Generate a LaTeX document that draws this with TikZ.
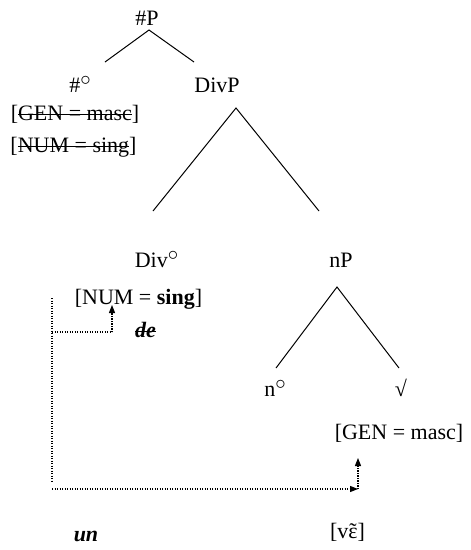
\documentclass[tikz,border=0pt]{standalone}
\usepackage{fontspec}
\setmainfont{Liberation Serif}
\usetikzlibrary{arrows.meta}
\newsavebox\stbox
\newcommand\strk[1]{\sbox\stbox{#1}\rlap{\rule[0.22em]{\wd\stbox}{0.055em}}\usebox\stbox}
\newcommand\hd{\raisebox{0.3em}{$\circ$}}
\newcommand\epsnasal{\ooalign{ɛ\cr\hidewidth\char"02DC\hidewidth\cr}}
\begin{document}
\begin{tikzpicture}[x=1pt,y=-1pt,
  lbl/.style={anchor=base,inner sep=0pt,font=\fontsize{22}{26}\selectfont},
  branch/.style={line width=1pt},
  movepath/.style={line width=1.2pt,dash pattern=on 1.2pt off 1.3pt},
  movearrow/.style={movepath,-{Triangle[length=8pt,width=6pt]}}]
\useasboundingbox (0,0) rectangle (471,550);
% labels
\node[lbl] (hP)   at (147,25)  {\#P};
\node[lbl] (h0)   at (80,92)   {\#\hd};
\node[lbl] (DivP) at (217,92)  {DivP};
\node[lbl] (gen1) at (75,120)  {[\strk{GEN = masc}]};
\node[lbl] (num1) at (73.5,152) {[\strk{NUM = sing}]};
\node[lbl] (Div0) at (156.5,267) {Div\hd};
\node[lbl] (nP)   at (341,267) {nP};
\node[lbl] (num2) at (138.5,304) {[NUM = \textbf{sing}]};
\node[lbl] (de)   at (145.5,337) {\textbf{\textit{\strk{de}}}};
\node[lbl] (n0)   at (275,396) {n\hd};
\node[lbl] (root) at (401,396) {√};
\node[lbl] (gen2) at (399,439) {[GEN = masc]};
\node[lbl] (ve)   at (347.5,538) {[v\epsnasal]};
\node[lbl] (un)   at (86,541)  {\textbf{\textit{un}}};
% branch points
\coordinate (hP-b) at (149,30);
\coordinate (h0-t) at (105,62);
\coordinate (DivP-t) at (194,62);
\coordinate (DivP-b) at (236,108);
\coordinate (Div0-t) at (153,211);
\coordinate (nP-t) at (319,211);
\coordinate (nP-b) at (337,287);
\coordinate (n0-t) at (276,368);
\coordinate (root-t) at (399,368);
\draw[branch] (h0-t) -- (hP-b) -- (DivP-t);
\draw[branch] (Div0-t) -- (DivP-b) -- (nP-t);
\draw[branch] (n0-t) -- (nP-b) -- (root-t);
% movement paths
\coordinate (m1a) at (52,298);
\coordinate (m1b) at (52,482);
\coordinate (m1c) at (52,332);
\coordinate (m1d) at (112,332);
\coordinate (m1e) at (112,305);
\coordinate (m2a) at (52,489);
\coordinate (m2b) at (358,489);
\coordinate (m2c) at (358,458);
\draw[movepath] (m1a) -- (m1b);
\draw[movepath] (m1c) -- (m1d);
\draw[movearrow] (m1d) -- (m1e);
\draw[movearrow] (m2a) -- (m2b);
\draw[movearrow] (m2b) -- (m2c);
\end{tikzpicture}
\end{document}
